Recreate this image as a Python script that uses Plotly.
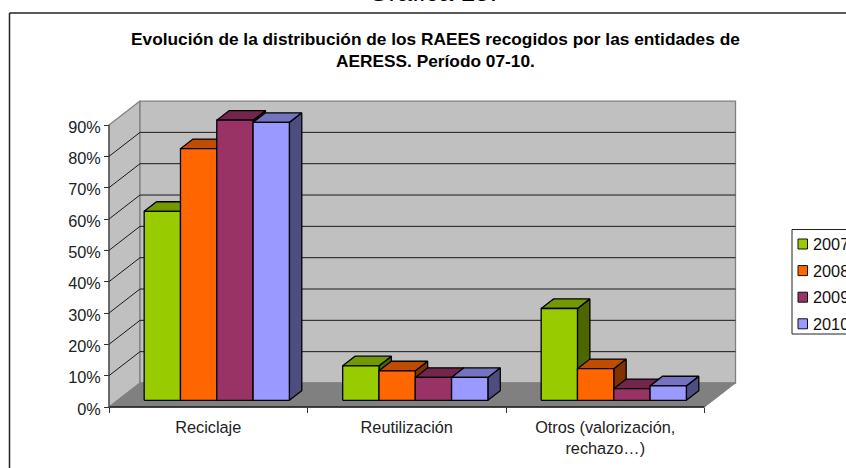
import plotly.graph_objects as go

categories = ["Reciclaje", "Reutilización", "Otros (valorización,<br>rechazo…)"]
years = ["2007", "2008", "2009", "2010"]
v2007 = [60.3, 11.0, 29.3]
v2008 = [80.3, 9.4, 10.1]
v2009 = [89.4, 7.3, 3.7]
v2010 = [88.7, 7.3, 4.6]
series = [v2007, v2008, v2009, v2010]
front_colors = ["#99CC00", "#FF6600", "#993366", "#9999FF"]
top_colors = ["#739900", "#BF4D00", "#73264D", "#7373BF"]
side_colors = ["#4D6600", "#803300", "#4D1A33", "#4D4D80"]
y_ticks = [0, 10, 20, 30, 40, 50, 60, 70, 80, 90]
y_labels = ["0%", "10%", "20%", "30%", "40%", "50%", "60%", "70%", "80%", "90%"]

W, H = 846, 468
PX0, PXU = 109.0, 198.5     # pixel of x=0, pixels per category
PY0, PYU = 407.0, 3.133     # pixel of y=0, pixels per percent
DX, DY = 31 / PXU, 24 / PYU  # full-depth shift in data units

D0, D1 = 0.28, 0.68
BAR_W = 36.3 / PXU
BAR_GAP = 26.5 / PXU
BAR_LW = 1.3


def polygon(xs, ys, fill, line, name=None, width=1):
    return go.Scatter(x=xs, y=ys, mode="lines", fill="toself", fillcolor=fill,
                      line=dict(color=line, width=width), name=name,
                      showlegend=False, hoverinfo="skip" if name is None else "name")


def segment(xs, ys, color, width=1):
    return go.Scatter(x=xs, y=ys, mode="lines", line=dict(color=color, width=width),
                      showlegend=False, hoverinfo="skip")


fig = go.Figure()
n = len(categories)
top = y_ticks[-1]
WALL = "#C0C0C0"
EDGE = "#808080"

# walls and floor
fig.add_trace(polygon([0, DX, DX, 0, 0], [0, DY, top + DY, top, 0], WALL, EDGE, width=1.3))
fig.add_trace(polygon([DX, n + DX, n + DX, DX, DX], [DY, DY, top + DY, top + DY, DY], WALL, EDGE, width=1.3))
fig.add_trace(polygon([0, n, n + DX, DX, 0], [0, 0, DY, DY, 0], EDGE, EDGE))

# gridlines
for t in y_ticks[1:-1]:
    fig.add_trace(segment([0, DX, n + DX], [t, t + DY, t + DY], "#1a1a1a"))

# bars
for c in range(n):
    for s, vals in enumerate(series):
        v = vals[c]
        x0 = c + BAR_GAP + s * BAR_W + D0 * DX
        x1 = x0 + BAR_W
        y0 = D0 * DY
        y1 = y0 + v
        ox = (D1 - D0) * DX
        oy = (D1 - D0) * DY
        fig.add_trace(polygon([x1, x1 + ox, x1 + ox, x1, x1], [y0, y0 + oy, y1 + oy, y1, y0],
                              side_colors[s], "#000000", width=BAR_LW))
        fig.add_trace(polygon([x0, x1, x1 + ox, x0 + ox, x0], [y1, y1, y1 + oy, y1 + oy, y1],
                              top_colors[s], "#000000", width=BAR_LW))
        fig.add_trace(polygon([x0, x1, x1, x0, x0], [y0, y0, y1, y1, y0],
                              front_colors[s], "#000000", name=years[s], width=BAR_LW))

# axis lines
fig.add_trace(segment([0, n], [0, 0], "#1a1a1a", 1.3))
fig.add_trace(segment([0, 0], [0, top], "#333333"))

FONT = "Liberation Sans, Arial, sans-serif"
shapes = [
    dict(type="line", xref="paper", yref="paper", x0=9.5 / W, x1=1, y0=1 - 13 / H, y1=1 - 13 / H,
         line=dict(color="#222222", width=1.5)),
    dict(type="line", xref="paper", yref="paper", x0=9.5 / W, x1=9.5 / W, y0=0, y1=1 - 13 / H,
         line=dict(color="#222222", width=1.5)),
    dict(type="rect", xref="paper", yref="paper", x0=792 / W, x1=1.02, y0=1 - 334 / H, y1=1 - 229.5 / H,
         line=dict(color="#222222", width=1), fillcolor="white"),
]
annotations = [
    dict(text="Gráfica 15.", xref="paper", yref="paper", x=432.5 / W, y=1 - 8.7 / H, xanchor="center",
         yanchor="bottom", showarrow=False, font=dict(family=FONT, size=26.4, color="black")),
    dict(text="<b>Evolución de la distribución de los RAEES recogidos por las entidades de</b>",
         xref="paper", yref="paper", x=435 / W, y=1 - 39 / H, xanchor="center", yanchor="middle",
         showarrow=False, font=dict(family=FONT, size=17.3, color="black")),
    dict(text="<b>AERESS. Período 07-10.</b>",
         xref="paper", yref="paper", x=435 / W, y=1 - 61 / H, xanchor="center", yanchor="middle",
         showarrow=False, font=dict(family=FONT, size=17.3, color="black")),
]
for i, yr in enumerate(years):
    cy = 244 + i * 26.6
    shapes.append(dict(type="rect", xref="paper", yref="paper", x0=798 / W, x1=807.5 / W,
                       y0=1 - (cy + 5) / H, y1=1 - (cy - 5) / H,
                       line=dict(color="#111111", width=1), fillcolor=front_colors[i]))
    annotations.append(dict(text=yr, xref="paper", yref="paper", x=811 / W, y=1 - cy / H,
                            xanchor="left", yanchor="middle", showarrow=False,
                            font=dict(family=FONT, size=16.3, color="#111111")))

fig.update_layout(
    width=W, height=H, margin=dict(l=0, r=0, t=0, b=0, pad=0),
    paper_bgcolor="white", plot_bgcolor="white", showlegend=False,
    shapes=shapes, annotations=annotations,
    font=dict(family=FONT, size=16.3, color="#222222"),
    xaxis=dict(range=[-PX0 / PXU, (W - PX0) / PXU], domain=[0, 1], anchor="free",
               position=(H - PY0) / H, showgrid=False, zeroline=False, showline=False,
               tickvals=[i + 0.5 for i in range(n)], ticktext=categories,
               ticks="outside", ticklen=5, tickcolor="rgba(0,0,0,0)", tickangle=0,
               minor=dict(tickvals=list(range(n + 1)), ticks="outside", ticklen=5,
                          tickcolor="#333333", showgrid=False)),
    yaxis=dict(range=[-(H - PY0) / PYU, PY0 / PYU], domain=[0, 1], anchor="free",
               position=PX0 / W, showgrid=False, zeroline=False, showline=False,
               tickvals=y_ticks, ticktext=y_labels, ticks="outside", ticklen=5,
               tickcolor="#333333", ticklabelshift=2),
)
fig.write_html("out.html", config={"displayModeBar": False},
               post_script="document.body.style.margin='0';document.documentElement.style.overflow='hidden';")
